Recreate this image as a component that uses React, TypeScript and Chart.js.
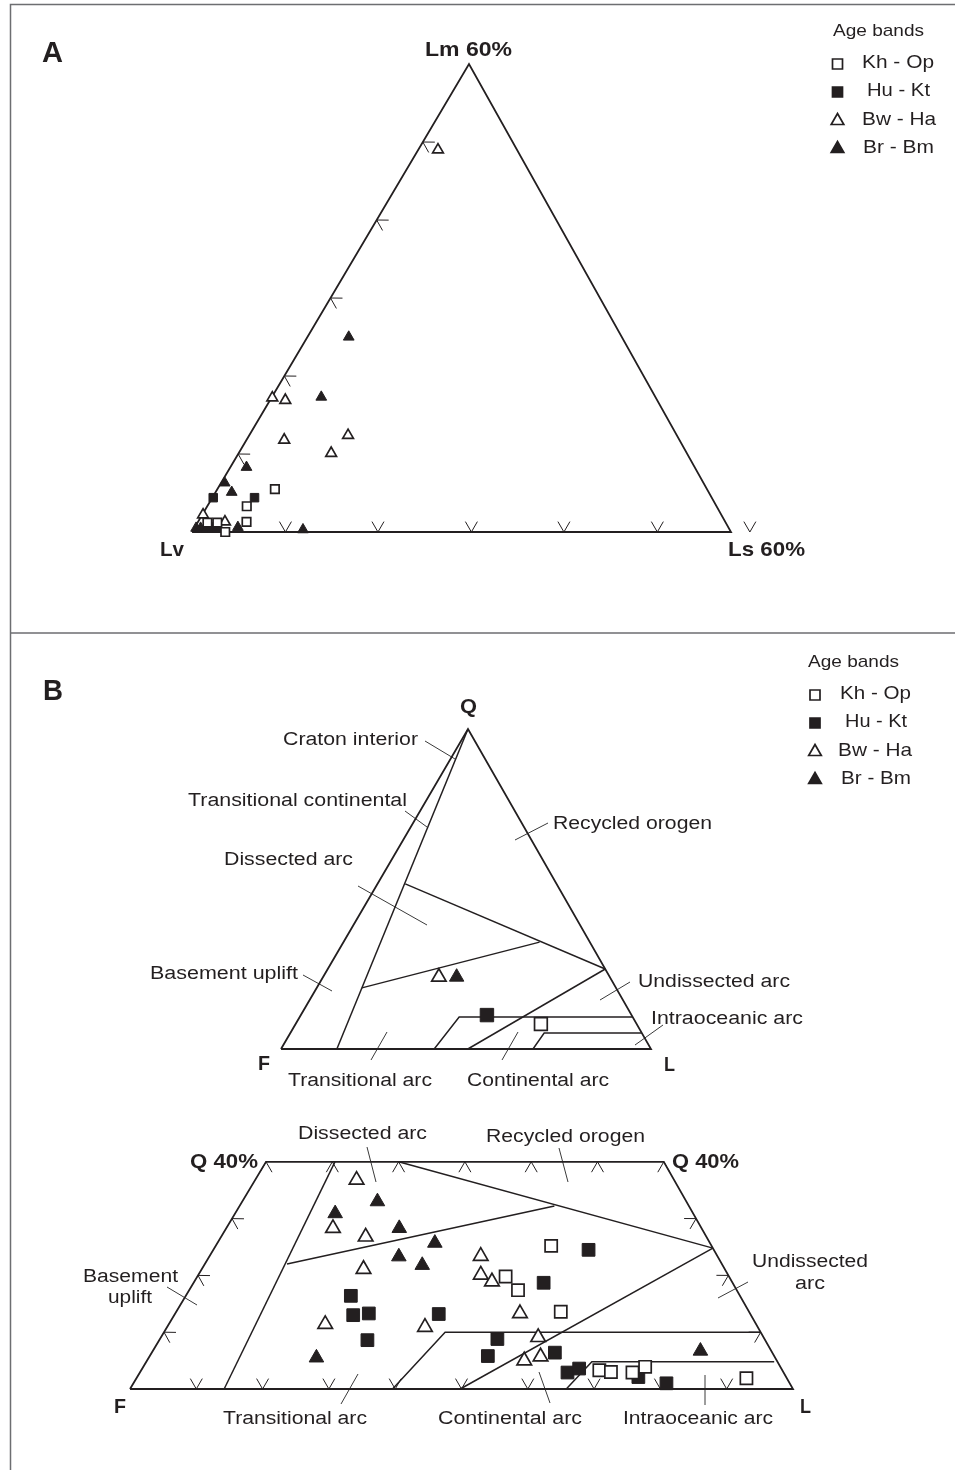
import React, { useEffect, useRef } from 'react';
import { Chart, registerables } from 'chart.js';

Chart.register(...registerables);

// ================= DATA =================
// Diagram A : [Lm %, Ls %]  (Lv = remainder), plotted on the Lv / Lm 60% / Ls 60% triangle
const aKhOp = [[5.5, 6.4], [3.3, 4.4], [1.3, 5.4], [1.2, 2.2], [1.2, 1.1], [0, 3.7]];
const aHuKt = [[4.4, 0.1], [4.4, 4.7]];
const aBwHa = [[49.0, 2.2], [17.2, 0.1], [16.9, 1.7], [11.8, 4.2], [12.4, 11.0], [10.1, 10.3], [2.2, 0.1], [1.3, 3.0]];
const aBrBm = [[25.0, 4.6], [17.3, 5.5], [8.3, 1.8], [6.3, 0.4], [5.1, 1.8], [0.6, 4.8], [0.3, 12.2], [0.5, 0.2], [0.5, 0.7], [0.5, 1.4], [0.5, 2.1], [0.5, 2.6]];

// Diagram B (full QFL triangle): [Q %, L %]  (F = remainder)
const btKhOp = [[7.8, 66.3]];
const btHuKt = [[10.6, 50.3]];
const btBwHa = [[22.5, 31.3]];
const btBrBm = [[22.5, 36.1]];

// Diagram B (Q 40% trapezoid): [Q %, L %]
const bbKhOp = [[25.2, 50.6], [19.8, 46.5], [17.4, 49.6], [13.6, 58.0], [3.3, 69.1], [3.0, 71.0], [2.9, 74.3], [3.9, 75.7], [1.9, 92.0]];
const bbHuKt = [[16.4, 24.9], [13.0, 27.0], [13.3, 29.2], [13.2, 39.8], [8.6, 31.4], [24.5, 56.6], [18.7, 52.8], [8.8, 50.9], [5.8, 51.0], [6.4, 60.8], [2.9, 64.5], [3.6, 65.9], [2.1, 75.6], [1.0, 80.4]];
const bbBwHa = [[36.8, 15.3], [28.3, 16.1], [26.8, 21.8], [21.1, 24.4], [11.4, 23.6], [10.9, 38.9], [23.4, 40.9], [20.1, 42.6], [18.9, 44.9], [13.3, 52.0], [9.1, 56.9], [5.0, 56.9], [5.7, 59.0]];
const bbBrBm = [[33.0, 20.4], [30.9, 15.1], [28.3, 26.1], [25.7, 32.8], [23.3, 28.6], [21.8, 32.9], [5.5, 25.3], [6.7, 82.6]];

// Frames and field boundaries (ternary compositions)
const aOutline = [[0, 0], [60, 0], [0, 60], [0, 0]];
const btOutline = [[0, 0], [100, 0], [0, 100], [0, 0]];
const btBasement = [[0, 15.1], [100, 0]];
const btRecycled = [[51.6, 7.5], [25, 75]];
const btDissected = [[19.1, 12.2], [33.4, 53]];
const btUndissected = [[25, 75], [0, 50.5]];
const btContinental = [[0, 41.4], [10, 43.1], [10, 90]];
const btIntraoceanic = [[0, 68.1], [5, 68.6], [5, 95]];
const bbOutline = [[0, 0], [40, 0], [40, 60], [0, 100], [0, 0]];
const bbBasement = [[0, 14.2], [40, 10.4]];
const bbDissected = [[22.0, 12.4], [32.2, 47.5]];
const bbRecycled = [[40, 20.0], [24.8, 75.2]];
const bbUndissected = [[24.8, 75.2], [0, 49.8]];
const bbContinental = [[0, 39.6], [10, 42.4], [10, 90]];
const bbIntraoceanic = [[0, 65.8], [4.8, 67.2], [4.8, 94.7]];

// Tick marks
const aLeftTicks = [10, 20, 30, 40, 50];            // Lm % on Lv–Lm side
const aBottomTicks = [10.4, 20.7, 31.1, 41.4, 51.8, 62.1]; // Ls % on Lv–Ls side
const bbTopTicks = [0, 10, 20, 30, 40, 50, 60];     // L % along Q = 40 %
const bbBottomTicks = [10, 20, 30, 40, 50, 60, 70, 80, 90]; // L % along Q = 0
const bbSideTicks = [10, 20, 30];                    // Q % on both sides

const legendLabels = ['Kh - Op', 'Hu - Kt', 'Bw - Ha', 'Br - Bm'];

// ================= LAYOUT =================
const PAGE_W = 955;
const PAGE_H = 1470;
const INK = '#231f20';
const FONT = '"Liberation Sans", Arial, Helvetica, sans-serif';

type Frame = { origin: number[]; top: number[]; right: number[]; scale: number };
const A_FRAME: Frame = { origin: [192, 532], top: [469, 64], right: [731, 532], scale: 60 };
const BT_FRAME: Frame = { origin: [281, 1049], top: [468, 729], right: [651, 1049], scale: 100 };
const BB_FRAME: Frame = { origin: [130, 1389], top: [470, 821], right: [793, 1389], scale: 100 };

function tern(f: Frame, a: number, b: number) {
  const u = a / f.scale;
  const v = b / f.scale;
  return {
    x: f.origin[0] + u * (f.top[0] - f.origin[0]) + v * (f.right[0] - f.origin[0]),
    y: f.origin[1] + u * (f.top[1] - f.origin[1]) + v * (f.right[1] - f.origin[1]),
  };
}
const pts = (f: Frame, arr: number[][]) => arr.map(([a, b]) => tern(f, a, b));

type Lbl = { t: string; x0: number; x1: number; y: number; size: number; bold?: boolean };
const labels: Lbl[] = [
  { t: 'A', x0: 42, x1: 63, y: 62, size: 30, bold: true },
  { t: 'Lm 60%', x0: 425, x1: 512, y: 56, size: 21, bold: true },
  { t: 'Lv', x0: 160, x1: 184, y: 556, size: 21, bold: true },
  { t: 'Ls 60%', x0: 728, x1: 805, y: 556, size: 21, bold: true },
  { t: 'Age bands', x0: 833, x1: 924, y: 36, size: 17 },
  { t: 'B', x0: 43, x1: 63, y: 700, size: 30, bold: true },
  { t: 'Age bands', x0: 808, x1: 899, y: 667, size: 17 },
  { t: 'Q', x0: 460, x1: 477, y: 713, size: 21, bold: true },
  { t: 'F', x0: 258, x1: 270, y: 1070, size: 21, bold: true },
  { t: 'L', x0: 664, x1: 675, y: 1071, size: 21, bold: true },
  { t: 'Craton interior', x0: 283, x1: 418, y: 745, size: 18 },
  { t: 'Transitional continental', x0: 188, x1: 407, y: 806, size: 18 },
  { t: 'Recycled orogen', x0: 553, x1: 712, y: 829, size: 18 },
  { t: 'Dissected arc', x0: 224, x1: 353, y: 865, size: 18 },
  { t: 'Basement uplift', x0: 150, x1: 298, y: 979, size: 18 },
  { t: 'Undissected arc', x0: 638, x1: 790, y: 987, size: 18 },
  { t: 'Intraoceanic arc', x0: 651, x1: 803, y: 1024, size: 18 },
  { t: 'Transitional arc', x0: 288, x1: 432, y: 1086, size: 18 },
  { t: 'Continental arc', x0: 467, x1: 609, y: 1086, size: 18 },
  { t: 'Q 40%', x0: 190, x1: 258, y: 1168, size: 21, bold: true },
  { t: 'Q 40%', x0: 672, x1: 739, y: 1168, size: 21, bold: true },
  { t: 'F', x0: 114, x1: 126, y: 1413, size: 21, bold: true },
  { t: 'L', x0: 800, x1: 811, y: 1413, size: 21, bold: true },
  { t: 'Dissected arc', x0: 298, x1: 427, y: 1139, size: 18 },
  { t: 'Recycled orogen', x0: 486, x1: 645, y: 1142, size: 18 },
  { t: 'Basement', x0: 83, x1: 178, y: 1282, size: 18 },
  { t: 'uplift', x0: 108, x1: 152, y: 1303, size: 18 },
  { t: 'Undissected', x0: 752, x1: 868, y: 1267, size: 18 },
  { t: 'arc', x0: 795, x1: 825, y: 1289, size: 18 },
  { t: 'Transitional arc', x0: 223, x1: 367, y: 1424, size: 18 },
  { t: 'Continental arc', x0: 438, x1: 582, y: 1424, size: 18 },
  { t: 'Intraoceanic arc', x0: 623, x1: 773, y: 1424, size: 18 },
];

const leaders: number[][] = [
  [425, 741, 455, 759], [405, 811, 427, 827], [548, 823, 515, 840], [358, 886, 427, 925],
  [303, 975, 332, 991], [630, 982, 600, 1000], [663, 1025, 635, 1045],
  [371, 1060, 387, 1032], [502, 1060, 518, 1032],
  [367, 1147, 376, 1182], [559, 1148, 568, 1182], [167, 1287, 197, 1305], [748, 1282, 718, 1298],
  [341, 1404, 358, 1374], [550, 1403, 539, 1372], [705, 1405, 705, 1375],
];

const legends = [
  { mx: 837.5, my: 64, tx: [[862, 934], [867, 930], [862, 936], [863, 934]], ty: 68 },
  { mx: 815, my: 695, tx: [[840, 911], [845, 907], [838, 912], [841, 911]], ty: 699 },
];
const styles = [
  { shape: 'rect', fill: '#ffffff' },
  { shape: 'rect', fill: INK },
  { shape: 'triangle', fill: '#ffffff' },
  { shape: 'triangle', fill: INK },
];

function markerSet(data: any[], s: any, r: number) {
  return {
    type: 'scatter' as const,
    data,
    pointStyle: s.shape,
    pointRadius: r,
    pointBackgroundColor: s.fill,
    pointBorderColor: INK,
    pointBorderWidth: s.fill === '#ffffff' ? 1.7 : 1,
    showLine: false,
    order: 0,
  };
}
function lineSet(data: any[], w: number) {
  return {
    type: 'scatter' as const,
    data,
    showLine: true,
    borderColor: INK,
    borderWidth: w,
    pointRadius: 0,
    fill: false,
    order: 1,
  };
}

function drawMarker(ctx: CanvasRenderingContext2D, shape: string, fill: string, x: number, y: number) {
  ctx.beginPath();
  if (shape === 'rect') {
    ctx.rect(x - 5, y - 5, 10, 10);
  } else {
    ctx.moveTo(x, y - 6.5);
    ctx.lineTo(x + 6.3, y + 4.5);
    ctx.lineTo(x - 6.3, y + 4.5);
    ctx.closePath();
  }
  ctx.fillStyle = fill;
  ctx.fill();
  ctx.lineWidth = 1.7;
  ctx.strokeStyle = INK;
  ctx.stroke();
}

const overlay = {
  id: 'overlay',
  beforeDatasetsDraw(chart: any) {
    const ctx = chart.ctx as CanvasRenderingContext2D;
    const X = (v: number) => chart.scales.x.getPixelForValue(v);
    const Y = (v: number) => chart.scales.y.getPixelForValue(v);
    ctx.save();
    // frame
    ctx.strokeStyle = '#6d6e71';
    ctx.lineWidth = 1.5;
    ctx.beginPath();
    ctx.moveTo(X(955), Y(4.5)); ctx.lineTo(X(10.5), Y(4.5)); ctx.lineTo(X(10.5), Y(1470));
    ctx.moveTo(X(10.5), Y(633)); ctx.lineTo(X(955), Y(633));
    ctx.stroke();
    // ticks
    ctx.strokeStyle = INK;
    ctx.lineWidth = 1;
    const chevron = (p: { x: number; y: number }, normalDeg: number, len: number) => {
      const px = X(p.x), py = Y(p.y);
      ctx.beginPath();
      for (const s of [-30, 30]) {
        const a = ((normalDeg + s) * Math.PI) / 180;
        ctx.moveTo(px, py);
        ctx.lineTo(px + len * Math.cos(a), py + len * Math.sin(a));
      }
      ctx.stroke();
    };
    aLeftTicks.forEach((v) => chevron(tern(A_FRAME, v, 0), 30.6, 12));
    aBottomTicks.forEach((v) => chevron(tern(A_FRAME, 0, v), -90, 12));
    bbTopTicks.forEach((v) => chevron(tern(BB_FRAME, 40, v), 90, 12));
    bbBottomTicks.forEach((v) => chevron(tern(BB_FRAME, 0, v), -90, 12));
    bbSideTicks.forEach((v) => chevron(tern(BB_FRAME, v, 0), 30.9, 12));
    bbSideTicks.forEach((v) => chevron(tern(BB_FRAME, v, 100 - v), 150.4, 12));
    // leader lines
    ctx.lineWidth = 1;
    ctx.strokeStyle = '#3a3a3a';
    leaders.forEach(([x0, y0, x1, y1]) => {
      ctx.beginPath();
      ctx.moveTo(X(x0), Y(y0));
      ctx.lineTo(X(x1), Y(y1));
      ctx.stroke();
    });
    ctx.restore();
  },
  afterDraw(chart: any) {
    const ctx = chart.ctx as CanvasRenderingContext2D;
    const X = (v: number) => chart.scales.x.getPixelForValue(v);
    const Y = (v: number) => chart.scales.y.getPixelForValue(v);
    ctx.save();
    ctx.fillStyle = INK;
    ctx.textBaseline = 'alphabetic';
    ctx.textAlign = 'left';
    const put = (t: string, x0: number, x1: number, y: number, size: number, bold?: boolean) => {
      ctx.font = `${bold ? 'bold ' : ''}${size}px ${FONT}`;
      const w = ctx.measureText(t).width;
      const k = (X(x1) - X(x0)) / w;
      ctx.save();
      ctx.translate(X(x0), Y(y));
      ctx.scale(k, 1);
      ctx.fillStyle = INK;
      ctx.fillText(t, 0, 0);
      ctx.restore();
    };
    labels.forEach((l) => put(l.t, l.x0, l.x1, l.y, l.size, l.bold));
    legends.forEach((lg) => {
      legendLabels.forEach((name, i) => {
        drawMarker(ctx, styles[i].shape, styles[i].fill, X(lg.mx), Y(lg.my + i * 28));
        put(name, lg.tx[i][0], lg.tx[i][1], lg.ty + i * 28.3, 19);
      });
    });
    ctx.restore();
  },
};

export default function App() {
  const ref = useRef<HTMLCanvasElement | null>(null);
  useEffect(() => {
    if (!ref.current) return;
    const datasets: any[] = [
      markerSet(pts(A_FRAME, aKhOp), styles[0], 6),
      markerSet(pts(A_FRAME, aHuKt), styles[1], 6),
      markerSet(pts(A_FRAME, aBwHa), styles[2], 6.2),
      markerSet(pts(A_FRAME, aBrBm), styles[3], 6.2),
      markerSet(pts(BT_FRAME, btKhOp), styles[0], 9),
      markerSet(pts(BT_FRAME, btHuKt), styles[1], 9.5),
      markerSet(pts(BT_FRAME, btBwHa), styles[2], 8.3),
      markerSet(pts(BT_FRAME, btBrBm), styles[3], 8.3),
      markerSet(pts(BB_FRAME, bbKhOp), styles[0], 8.6),
      markerSet(pts(BB_FRAME, bbHuKt), styles[1], 9),
      markerSet(pts(BB_FRAME, bbBwHa), styles[2], 8.4),
      markerSet(pts(BB_FRAME, bbBrBm), styles[3], 8.4),
      lineSet(pts(A_FRAME, aOutline), 1.8),
      lineSet(pts(BT_FRAME, btOutline), 1.8),
      lineSet(pts(BT_FRAME, btBasement), 1.5),
      lineSet(pts(BT_FRAME, btRecycled), 1.5),
      lineSet(pts(BT_FRAME, btDissected), 1.5),
      lineSet(pts(BT_FRAME, btUndissected), 1.5),
      lineSet(pts(BT_FRAME, btContinental), 1.5),
      lineSet(pts(BT_FRAME, btIntraoceanic), 1.5),
      lineSet(pts(BB_FRAME, bbOutline), 1.8),
      lineSet(pts(BB_FRAME, bbBasement), 1.5),
      lineSet(pts(BB_FRAME, bbDissected), 1.5),
      lineSet(pts(BB_FRAME, bbRecycled), 1.5),
      lineSet(pts(BB_FRAME, bbUndissected), 1.5),
      lineSet(pts(BB_FRAME, bbContinental), 1.5),
      lineSet(pts(BB_FRAME, bbIntraoceanic), 1.5),
    ];
    const chart = new Chart(ref.current, {
      type: 'scatter',
      data: { datasets },
      options: {
        responsive: false,
        animation: false,
        devicePixelRatio: 1,
        events: [],
        layout: { padding: 0, autoPadding: false },
        plugins: { legend: { display: false }, tooltip: { enabled: false }, title: { display: false } },
        scales: {
          x: { type: 'linear', min: 0, max: PAGE_W, display: false },
          y: { type: 'linear', min: 0, max: PAGE_H, reverse: true, display: false },
        },
      },
      plugins: [overlay],
    } as any);
    return () => chart.destroy();
  }, []);
  return (
    <div style={{ position: 'absolute', left: 0, top: 0, width: PAGE_W, height: PAGE_H, background: '#ffffff' }}>
      <canvas ref={ref} width={PAGE_W} height={PAGE_H} style={{ display: 'block' }} />
    </div>
  );
}
